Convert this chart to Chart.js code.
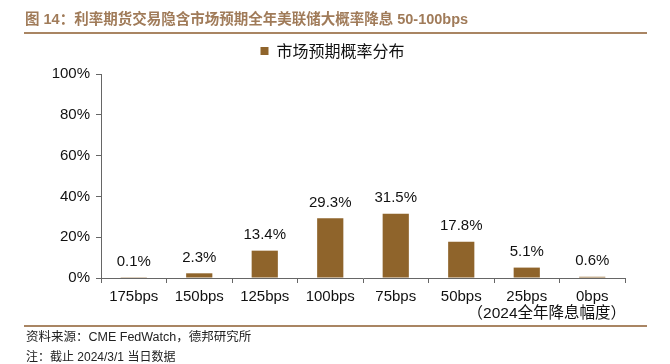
<!DOCTYPE html>
<html>
<head>
<meta charset="utf-8">
<script src="https://cdn.jsdelivr.net/npm/chart.js@4"></script>
<style>
  body { margin: 0; background: #fff; }
  #wrap { position: relative; width: 670px; height: 364px; overflow: hidden; }
  #chartBox { position: absolute; left: 0; top: 0; width: 670px; height: 364px; }
  .txt { position: absolute; white-space: nowrap; font-family: "Liberation Sans", "Noto Sans CJK SC", sans-serif; }
  #title { left: 25px; top: 7px; font-size: 14.5px; font-weight: bold; color: #a07b59; }
  .rule { position: absolute; left: 24px; width: 623px; height: 2px; background: #a98563; }
  #src { left: 26px; top: 326px; font-size: 12.5px; color: #222; }
  #note { left: 26px; top: 347px; font-size: 12px; color: #222; }
</style>
</head>
<body>
<div id="wrap">
  <div id="chartBox"><canvas id="rateChart"></canvas></div>
  <div id="title" class="txt">图 14：利率期货交易隐含市场预期全年美联储大概率降息 50-100bps</div>
  <div class="rule" style="top:32px"></div>
  <div class="rule" style="top:325px"></div>
  <div id="src" class="txt">资料来源：CME FedWatch，德邦研究所</div>
  <div id="note" class="txt">注：截止 2024/3/1 当日数据</div>
</div>
<script>
// 降息幅度分类 & 概率 (%)
const cutLabels = ["175bps", "150bps", "125bps", "100bps", "75bps", "50bps", "25bps", "0bps"];
const probValues = [0.1, 2.3, 13.4, 29.3, 31.5, 17.8, 5.1, 0.6];
const yTicks = [0, 20, 40, 60, 80, 100];
const seriesName = "市场预期概率分布";
const axisTitle = "（2024全年降息幅度）";

const barColor = "#8f642b";
const numFont = "15px 'Liberation Sans', Arial, sans-serif";

// 柱顶数值 + 横轴标题
const valueLabels = {
  id: "valueLabels",
  afterDatasetsDraw(chart) {
    const ctx = chart.ctx;
    const meta = chart.getDatasetMeta(0);
    ctx.save();
    ctx.font = numFont;
    ctx.fillStyle = "#111";
    ctx.textAlign = "center";
    ctx.textBaseline = "bottom";
    meta.data.forEach((bar, i) => {
      ctx.fillText(probValues[i].toFixed(1) + "%", bar.x, bar.y - 8);
    });
    ctx.font = "15.5px 'Liberation Sans', 'Noto Sans CJK SC', sans-serif";
    ctx.textAlign = "right";
    ctx.textBaseline = "middle";
    ctx.fillText(axisTitle, chart.chartArea.right + 1, 314);
    ctx.restore();
  }
};

const ctx = document.getElementById("rateChart").getContext("2d");
new Chart(ctx, {
  type: "bar",
  data: {
    labels: cutLabels,
    datasets: [{
      label: seriesName,
      data: probValues,
      backgroundColor: barColor,
      categoryPercentage: 1,
      barPercentage: 0.4
    }]
  },
  options: {
    responsive: true,
    maintainAspectRatio: false,
    animation: false,
    layout: { padding: { left: 20, right: 25, top: 29, bottom: 0 } },
    plugins: {
      legend: {
        display: true,
        position: "top",
        labels: {
          boxWidth: 8,
          boxHeight: 8,
          padding: 14,
          color: "#111",
          font: { family: "'Noto Sans CJK SC', sans-serif", size: 16 }
        }
      },
      tooltip: { enabled: false }
    },
    scales: {
      x: {
        grid: { display: true, drawOnChartArea: false, offset: true, tickLength: 5, color: "#666" },
        border: { color: "#666", width: 1 },
        ticks: { color: "#111", font: { family: "'Liberation Sans', Arial", size: 15 }, padding: 5, maxRotation: 0 },
        afterFit(s) { s.height = 86; }
      },
      // 空白顶轴，只用来在图例下留出间距
      x2: {
        type: "category",
        position: "top",
        display: true,
        grid: { display: false },
        border: { display: false },
        ticks: { display: false },
        afterFit(s) { s.height = 5; }
      },
      y: {
        min: 0,
        max: 100,
        afterBuildTicks(s) { s.ticks = yTicks.map(v => ({ value: v })); },
        grid: { display: true, drawOnChartArea: false, tickLength: 5, color: "#666" },
        border: { color: "#666", width: 1 },
        ticks: {
          color: "#111",
          font: { family: "'Liberation Sans', Arial", size: 15 },
          padding: 6,
          callback: v => v + "%"
        },
        afterFit(s) { s.width = 81; }
      },
      y2: {
        position: "right",
        display: true,
        grid: { display: false },
        border: { display: false },
        ticks: { display: false },
        afterFit(s) { s.width = 20; }
      }
    }
  },
  plugins: [valueLabels]
});
</script>
</body>
</html>
